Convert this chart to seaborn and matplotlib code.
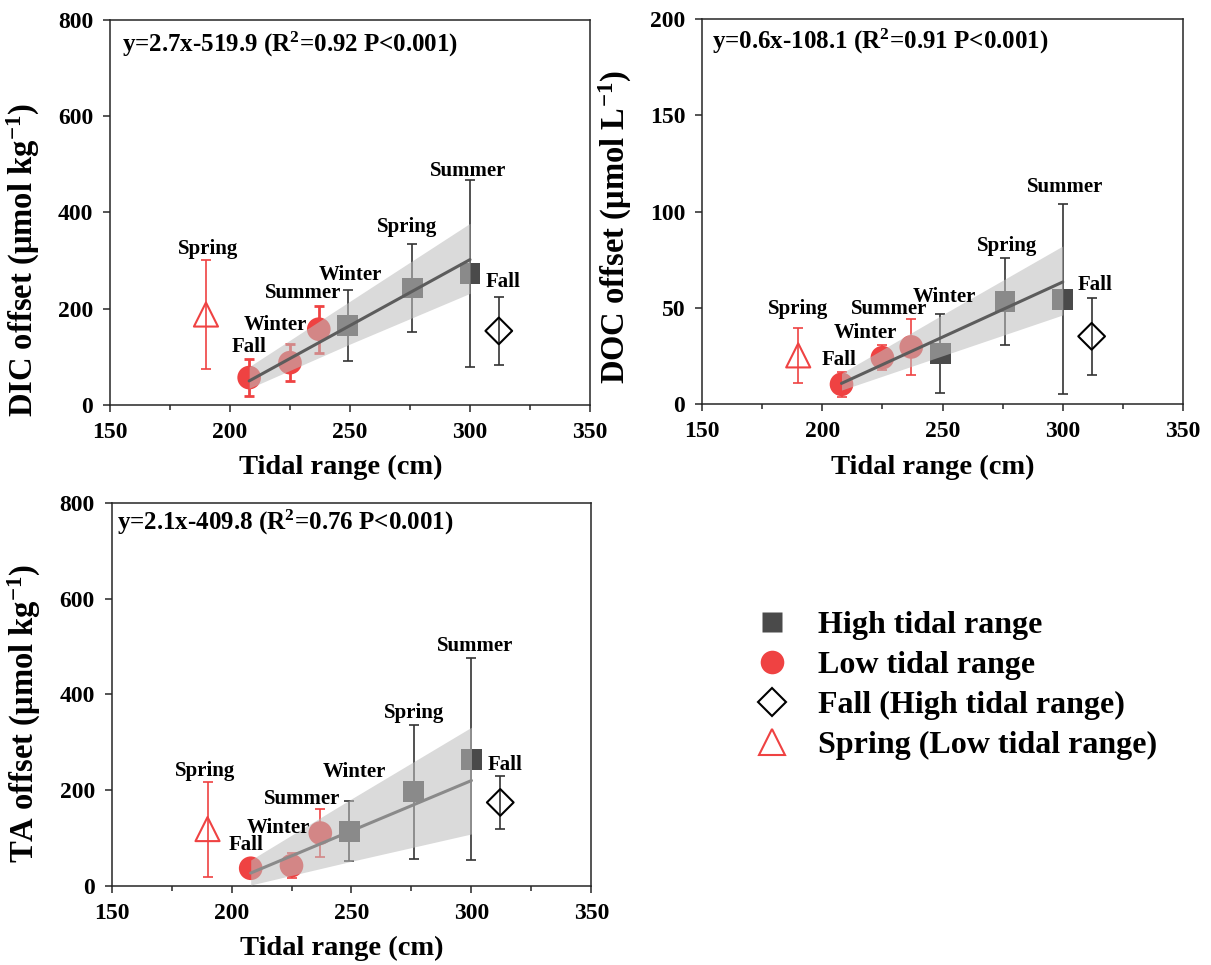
import numpy as np
import pandas as pd
import matplotlib
matplotlib.use("Agg")
import matplotlib.pyplot as plt
from matplotlib.lines import Line2D
import seaborn as sns

# ---------------------------------------------------------------------------
# Data
# ---------------------------------------------------------------------------
# Sampling campaigns: season, tidal-range group and tidal range (cm)
seasons = ["Fall", "Winter", "Summer", "Winter", "Spring", "Summer", "Spring", "Fall"]
groups = ["low", "low", "low", "high", "high", "high", "low_open", "high_open"]
tidal_range = [208, 225, 237, 249, 276, 300, 190, 312]

# Mean offsets and standard deviations
dic_mean = [57, 88, 157.5, 165.5, 243, 273, 188, 154]
dic_sd = [38, 38, 48.5, 73.5, 91, 194, 114, 70]

doc_mean = [10.4, 24.2, 29.8, 26.4, 53.3, 54.6, 25.4, 35.3]
doc_sd = [6.5, 6.5, 14.6, 20.5, 22.5, 49.4, 14.2, 20.1]

ta_mean = [37, 42.5, 110.5, 114.6, 196.5, 265, 118.8, 174.5]
ta_sd = [8, 26.5, 50.5, 63, 140, 210.7, 99.2, 56]

# Linear fits (slope, intercept, R2)
dic_fit = (2.74, -519.9, 0.92)
doc_fit = (0.572, -108.1, 0.91)
ta_fit = (2.1, -409.8, 0.76)

# 95% confidence band of each fit
band_x = [208, 250, 300]
dic_band_lo = [34.6, 126.7, 232]
dic_band_hi = [79.6, 215.7, 377.5]
doc_band_lo = [7.4, 25.2, 46.4]
doc_band_hi = [16.1, 46.5, 82.2]
ta_band_lo = [2, 51.6, 108.7]
ta_band_hi = [54.3, 182, 331.6]

fit_x = [208, 300]

# ---------------------------------------------------------------------------
# Style
# ---------------------------------------------------------------------------
sns.set_theme(style="ticks")
plt.rcParams["font.family"] = ["Liberation Serif", "DejaVu Serif"]
plt.rcParams["font.weight"] = "bold"
plt.rcParams["axes.labelweight"] = "bold"
plt.rcParams["text.color"] = "black"
plt.rcParams["axes.labelcolor"] = "black"
plt.rcParams["xtick.color"] = "black"
plt.rcParams["ytick.color"] = "black"
plt.rcParams["mathtext.fontset"] = "custom"
plt.rcParams["mathtext.rm"] = "Liberation Serif:bold"
plt.rcParams["mathtext.bf"] = "Liberation Serif:bold"
plt.rcParams["mathtext.it"] = "Liberation Serif:bold"
plt.rcParams["mathtext.default"] = "bf"

RED = "#EF4242"
DARK = "#4a4a4a"
AXC = "#262626"
BAND = (0.74, 0.74, 0.74)

# Label offsets (pixels: dx, dy above the error-bar top) per panel
label_offsets = {
    "DIC": [(0, 7), (-15, 14), (-16, 8), (3, 10), (-5, 12), (-2, 4), (2, 6), (4, 10)],
    "DOC": [(-2, 7), (-17, 7), (-22, 5), (4, 12), (2, 7), (2, 12), (0, 14), (3, 8)],
    "TA": [(-5, 14), (-13, 20), (-18, 5), (5, 24), (0, 7), (4, 7), (-2, 6), (5, 6)],
}

panels = [
    dict(key="DIC", rect=[0.0908, 0.5803, 0.3964, 0.399], mean=dic_mean, sd=dic_sd,
         fit=dic_fit, lo=dic_band_lo, hi=dic_band_hi, ylim=(0, 800),
         yticks=[0, 200, 400, 600, 800], ylabel=r"DIC offset (μmol kg$^{-1}$)",
         ylab_y=0.377, eq_pos=(0.026, 0.918), line_color="#5c5c5c", red_lw=2.0),
    dict(key="DOC", rect=[0.5797, 0.581, 0.3972, 0.3993], mean=doc_mean, sd=doc_sd,
         fit=doc_fit, lo=doc_band_lo, hi=doc_band_hi, ylim=(0, 200),
         yticks=[0, 50, 100, 150, 200], ylabel=r"DOC offset (μmol L$^{-1}$)",
         ylab_y=0.46, eq_pos=(0.02, 0.924), line_color="#5c5c5c", red_lw=1.2),
    dict(key="TA", rect=[0.0921, 0.0819, 0.3963, 0.3969], mean=ta_mean, sd=ta_sd,
         fit=ta_fit, lo=ta_band_lo, hi=ta_band_hi, ylim=(0, 800),
         yticks=[0, 200, 400, 600, 800], ylabel=r"TA offset (μmol kg$^{-1}$)",
         ylab_y=0.45, eq_pos=(0.012, 0.93), line_color="#8a8a8a", red_lw=1.2),
]

fig = plt.figure(figsize=(12.11, 9.65), dpi=100)

for p in panels:
    ax = fig.add_axes(p["rect"])
    df = pd.DataFrame({"season": seasons, "group": groups, "x": tidal_range,
                       "y": p["mean"], "sd": p["sd"]})

    # Error bars, drawn beneath the markers
    for _, r in df.iterrows():
        red = r["group"] in ("low", "low_open")
        lw = p["red_lw"] if r["group"] == "low" else 1.2
        ax.errorbar(r["x"], r["y"], yerr=r["sd"], fmt="none",
                    ecolor=RED if red else "#333333",
                    elinewidth=lw, capsize=3.5, capthick=lw, zorder=1)

    # Filled markers
    sns.scatterplot(data=df[df["group"] == "high"], x="x", y="y", marker="s", s=225,
                    color=DARK, edgecolor="none", linewidth=0, ax=ax, zorder=2, legend=False)
    sns.scatterplot(data=df[df["group"] == "low"], x="x", y="y", marker="o", s=290,
                    color=RED, edgecolor="none", linewidth=0, ax=ax, zorder=2, legend=False)
    # Open markers for the campaigns left out of the fit
    sns.scatterplot(data=df[df["group"] == "high_open"], x="x", y="y", marker="D", s=185,
                    facecolor="none", edgecolor="black", linewidth=1.5, ax=ax, zorder=2,
                    legend=False)
    sns.scatterplot(data=df[df["group"] == "low_open"], x="x", y="y", marker="^", s=300,
                    facecolor="none", edgecolor=RED, linewidth=1.5, ax=ax, zorder=2,
                    legend=False)

    # Confidence band and regression line
    ax.fill_between(band_x, p["lo"], p["hi"], color=BAND, alpha=0.56, lw=0, zorder=3)
    slope, intercept, r2 = p["fit"]
    line_df = pd.DataFrame({"x": fit_x, "y": [slope * v + intercept for v in fit_x]})
    sns.lineplot(data=line_df, x="x", y="y", color=p["line_color"], lw=2.2, ax=ax, zorder=4)

    # Season labels above each error bar
    for (_, r), (dx, dy) in zip(df.iterrows(), label_offsets[p["key"]]):
        ax.annotate(r["season"], xy=(r["x"], r["y"] + r["sd"]), xytext=(dx, dy),
                    textcoords="offset pixels", ha="center", va="baseline",
                    fontsize=15, fontweight="bold", color="black", zorder=5)

    # Regression equation
    ax.text(p["eq_pos"][0], p["eq_pos"][1],
            f"y={slope:.1f}x{intercept:.1f} (R$^{{2}}$={r2:.2f} P<0.001)",
            transform=ax.transAxes, ha="left", va="baseline", fontsize=18,
            fontweight="bold", color="black")

    # Axes
    ax.set_xlim(150, 350)
    ax.set_ylim(*p["ylim"])
    ax.set_xticks([150, 200, 250, 300, 350])
    ax.set_xticks([175, 225, 275, 325], minor=True)
    ax.set_yticks(p["yticks"])
    ax.set_xlabel("Tidal range (cm)", fontsize=20.5, fontweight="bold")
    ax.set_ylabel(p["ylabel"], fontsize=23.5, fontweight="bold")
    ax.xaxis.set_label_coords(0.48, -0.13)
    ax.yaxis.set_label_coords(-0.142, p["ylab_y"])
    ax.xaxis.label.set_va("top")
    ax.tick_params(axis="both", which="major", direction="out", length=5, width=1.1,
                   labelsize=17, color=AXC, pad=7)
    ax.tick_params(axis="x", which="minor", direction="out", length=3.5, width=1.1, color=AXC)
    for lab in ax.get_xticklabels() + ax.get_yticklabels():
        lab.set_fontweight("bold")
    for sp in ax.spines.values():
        sp.set_visible(True)
        sp.set_color(AXC)
        sp.set_linewidth(1.1)
    ax.set_facecolor("white")

# Legend
handles = [
    Line2D([], [], marker="s", ls="none", color=DARK, ms=15, mec="none"),
    Line2D([], [], marker="o", ls="none", color=RED, ms=17, mec="none"),
    Line2D([], [], marker="D", ls="none", mfc="none", mec="black", mew=1.5, ms=14),
    Line2D([], [], marker="^", ls="none", mfc="none", mec=RED, mew=1.5, ms=19),
]
labels = ["High tidal range", "Low tidal range", "Fall (High tidal range)",
          "Spring (Low tidal range)"]
fig.legend(handles, labels, loc="upper left", bbox_to_anchor=(0.6246, 0.3675),
           frameon=False, prop={"size": 23, "weight": "bold"}, handlelength=0.96,
           handletextpad=0.97, labelspacing=0.34, borderpad=0, borderaxespad=0)

fig.savefig("out.png", dpi=100, facecolor="white")
